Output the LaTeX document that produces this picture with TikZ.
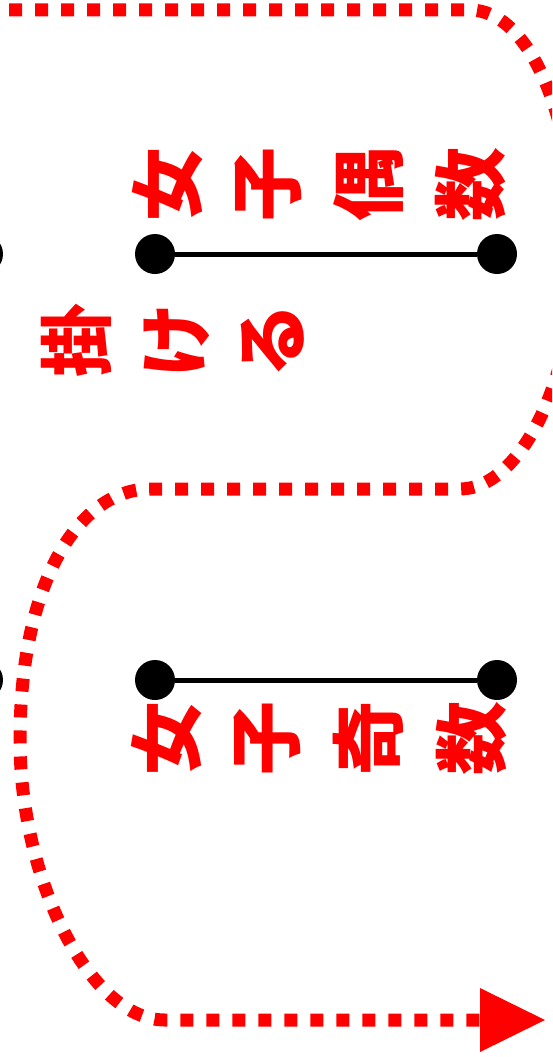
\documentclass[tikz,border=0pt]{standalone}
\usepackage{fontspec}
\usepackage{graphicx}
\newfontfamily\cjk{Noto Sans CJK JP}
\usetikzlibrary{arrows.meta}
\newcommand\rc[1]{\rotatebox{90}{#1}}
\newcommand\gp{\hspace{32pt}}
\tikzset{
  dotnode/.style={circle,fill=black,minimum size=40pt,inner sep=0pt},
  seg/.style={line width=5pt,black},
  lbl/.style={text=red,inner sep=0pt,font=\cjk\bfseries\fontsize{74}{74}\selectfont},
  redpath/.style={red,line width=13pt,dash pattern=on 13pt off 13pt,
    -{Triangle[length=65pt,width=64pt,line width=0pt]}}
}
\begin{document}
\begin{tikzpicture}[x=1pt,y=-1pt]
\useasboundingbox (0,0) rectangle (552,1057);
\clip (0,0) rectangle (552,1057);
% partial dots at left edge
\node[dotnode] (l1) at (-17,254) {};
\node[dotnode] (l2) at (-17,680) {};
% segments
\node[dotnode] (a1) at (155,254) {};
\node[dotnode] (a2) at (497,254) {};
\node[dotnode] (b1) at (155,680) {};
\node[dotnode] (b2) at (497,680) {};
\draw[seg] (a1) -- (a2);
\draw[seg] (b1) -- (b2);
% labels
\node[lbl] (t1) at (319,184) {\rc{女}\gp\rc{子}\gp\rc{偶}\gp\rc{数}};
\node[lbl] (t2) at (319,738) {\rc{女}\gp\rc{子}\gp\rc{奇}\gp\rc{数}};
\node[lbl] (t3) at (173,340) {\rc{掛}\gp\rc{け}\gp\rc{る}};
% red path
\coordinate (s) at (9,10);
\coordinate (r1) at (470,10);
\coordinate (rm) at (575,250);
\coordinate (r2) at (460,489);
\coordinate (q1) at (150,489);
\coordinate (lm) at (20,740);
\coordinate (q2) at (165,1020);
\coordinate (e) at (545,1020);
\draw[redpath] (s) -- (r1)
  .. controls (530,10) and (575,120) .. (rm)
  .. controls (575,380) and (520,489) .. (r2)
  -- (q1)
  .. controls (80,489) and (20,580) .. (lm)
  .. controls (20,880) and (90,1020) .. (q2)
  -- (e);
\end{tikzpicture}
\end{document}
